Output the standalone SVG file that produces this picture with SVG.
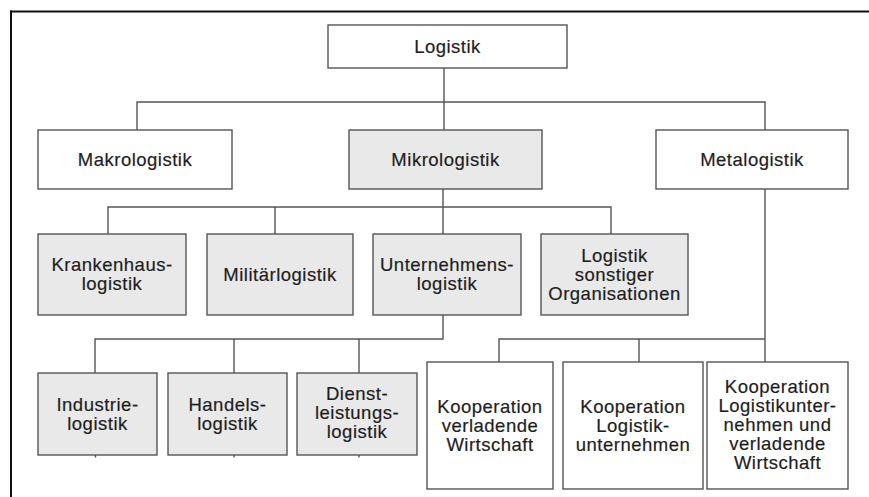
<svg xmlns="http://www.w3.org/2000/svg" width="869" height="497" viewBox="0 0 869 497">
  <style>
    .box { fill: #ffffff; stroke: #555555; stroke-width: 1.4; }
    .box.shaded { fill: #e9e9e9; }
    .lbl { font-family: "Liberation Sans", Arial, sans-serif; font-size: 18.5px; letter-spacing: 0.5px; fill: #1e1e1e; stroke: #1e1e1e; stroke-width: 0.2; text-anchor: middle; }
    .conn { fill: none; stroke: #555555; stroke-width: 1.4; }
    .frame { fill: none; stroke: #111111; stroke-width: 2; }
  </style>
  <rect width="869" height="497" fill="#ffffff"/>

  <!-- page frame: top and left rules -->
  <g id="frame">
    <line class="frame" x1="10" y1="11.5" x2="869" y2="11.5"/>
    <line class="frame" x1="11" y1="10.5" x2="11" y2="497" stroke-width="2.4"/>
  </g>

  <!-- connectors -->
  <g id="connectors">
    <!-- Logistik to level 2 -->
    <path class="conn" d="M444 68 V130 M137 130 V102 H765 V130"/>
    <!-- Mikrologistik to level 3 -->
    <path class="conn" d="M443 189 V234 M108 234 V207 H611 V234 M275 207 V234"/>
    <!-- Unternehmenslogistik to level 4 -->
    <path class="conn" d="M443 315 V339 H95 V373 M234 339 V373 M359 339 V373"/>
    <!-- Metalogistik to level 4 -->
    <path class="conn" d="M765 189 V362 M499 362 V339 H765 M639 339 V362"/>
    <!-- short stubs below the level 4 boxes -->
    <path class="conn" d="M95.5 455 V457.5 M234 455 V457.5 M359 455 V457.5"/>
  </g>

  <g id="logistik">
    <rect class="box" x="328" y="25" width="239" height="43"/>
    <text class="lbl" x="447.5" y="53">Logistik</text>
  </g>

  <g id="makrologistik">
    <rect class="box" x="38" y="130" width="194" height="59"/>
    <text class="lbl" x="135" y="166">Makrologistik</text>
  </g>
  <g id="mikrologistik">
    <rect class="box shaded" x="349" y="130" width="193" height="59"/>
    <text class="lbl" x="445.5" y="166">Mikrologistik</text>
  </g>
  <g id="metalogistik">
    <rect class="box" x="656" y="130" width="192" height="59"/>
    <text class="lbl" x="752" y="166">Metalogistik</text>
  </g>

  <g id="krankenhauslogistik">
    <rect class="box shaded" x="38" y="234" width="148" height="81"/>
    <text class="lbl" x="112" y="270.5">Krankenhaus-<tspan x="112" dy="19">logistik</tspan></text>
  </g>
  <g id="militaerlogistik">
    <rect class="box shaded" x="207" y="234" width="146" height="81"/>
    <text class="lbl" x="280" y="281">Militärlogistik</text>
  </g>
  <g id="unternehmenslogistik">
    <rect class="box shaded" x="373" y="234" width="148" height="81"/>
    <text class="lbl" x="447" y="270.5">Unternehmens-<tspan x="447" dy="19">logistik</tspan></text>
  </g>
  <g id="logistik-sonstiger-organisationen">
    <rect class="box shaded" x="541" y="234" width="147" height="81"/>
    <text class="lbl" x="614.5" y="262">Logistik<tspan x="614.5" dy="19">sonstiger</tspan><tspan x="614.5" dy="19">Organisationen</tspan></text>
  </g>

  <g id="industrielogistik">
    <rect class="box shaded" x="38" y="373" width="119" height="82"/>
    <text class="lbl" x="97.5" y="410.5">Industrie-<tspan x="97.5" dy="19">logistik</tspan></text>
  </g>
  <g id="handelslogistik">
    <rect class="box shaded" x="168" y="373" width="119" height="82"/>
    <text class="lbl" x="227.5" y="410.5">Handels-<tspan x="227.5" dy="19">logistik</tspan></text>
  </g>
  <g id="dienstleistungslogistik">
    <rect class="box shaded" x="297" y="373" width="120" height="82"/>
    <text class="lbl" x="357" y="399.5">Dienst-<tspan x="357" dy="19">leistungs-</tspan><tspan x="357" dy="19">logistik</tspan></text>
  </g>

  <g id="kooperation-verladende-wirtschaft">
    <rect class="box" x="427" y="362" width="126" height="127"/>
    <text class="lbl" x="490" y="413">Kooperation<tspan x="490" dy="19">verladende</tspan><tspan x="490" dy="19">Wirtschaft</tspan></text>
  </g>
  <g id="kooperation-logistikunternehmen">
    <rect class="box" x="563" y="362" width="140" height="127"/>
    <text class="lbl" x="633" y="413">Kooperation<tspan x="633" dy="19">Logistik-</tspan><tspan x="633" dy="19">unternehmen</tspan></text>
  </g>
  <g id="kooperation-logistikunternehmen-verladende-wirtschaft">
    <rect class="box" x="707" y="362" width="141" height="127"/>
    <text class="lbl" x="777.5" y="393">Kooperation<tspan x="777.5" dy="19">Logistikunter-</tspan><tspan x="777.5" dy="19">nehmen und</tspan><tspan x="777.5" dy="19">verladende</tspan><tspan x="777.5" dy="19">Wirtschaft</tspan></text>
  </g>
</svg>
